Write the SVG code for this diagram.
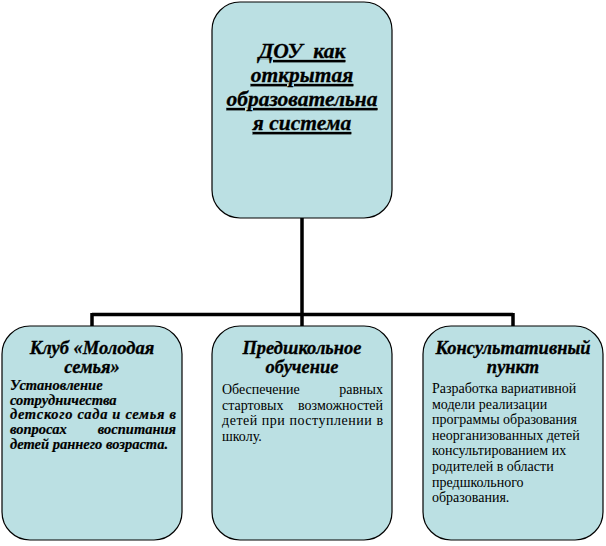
<svg xmlns="http://www.w3.org/2000/svg" width="606" height="546" viewBox="0 0 606 546">
<style>
.box{fill:#BBE0E3;stroke:#000;stroke-width:1.2}
.conn{stroke:#000;stroke-width:3.5;fill:none}
.ttl{font-family:"Liberation Serif","DejaVu Serif",serif;font-weight:bold;font-style:italic;font-size:18.5px;text-anchor:middle;fill:#000;stroke:#000;stroke-width:0.3}
.main{font-family:"Liberation Serif","DejaVu Serif",serif;font-weight:bold;font-style:italic;font-size:21.5px;text-anchor:middle;text-decoration:underline;fill:#000;stroke:#000;stroke-width:0.3}
.bi{font-family:"Liberation Serif","DejaVu Serif",serif;font-weight:bold;font-style:italic;font-size:14.5px;fill:#000;stroke:#000;stroke-width:0.2}
.rg{font-family:"Liberation Serif","DejaVu Serif",serif;font-size:14px;fill:#000}
.end{text-anchor:end}
</style>
<rect width="606" height="546" fill="#fff"/>
<g id="connectors">
<path class="conn" d="M302 218 V314.5 M92 314.5 H513 M92 313 V326 M302 313 V326 M513 313 V326"/>
</g>
<g id="node-dou">
<rect class="box" x="212" y="2" width="180" height="216" rx="28"/>
<text class="main" x="302" y="58" xml:space="preserve">ДОУ  как</text>
<text class="main" x="302" y="82">открытая</text>
<text class="main" x="302" y="106">образовательна</text>
<text class="main" x="302" y="130">я система</text>
</g>
<g id="node-club">
<rect class="box" x="2" y="326" width="180" height="214" rx="28"/>
<text class="ttl" x="92" y="354">Клуб «Молодая</text>
<text class="ttl" x="92" y="373">семья»</text>
<text class="bi" x="10" y="390">Установление</text>
<text class="bi" x="10" y="404.7">сотрудничества</text>
<text class="bi" x="10" y="419.4" textLength="166" lengthAdjust="spacing">детского сада и семья в</text>
<text class="bi" x="10" y="434">вопросах</text>
<text class="bi end" x="176" y="434">воспитания</text>
<text class="bi" x="10" y="448.8">детей раннего возраста.</text>
</g>
<g id="node-preschool">
<rect class="box" x="212" y="326" width="180" height="214" rx="28"/>
<text class="ttl" x="302" y="354">Предшкольное</text>
<text class="ttl" x="302" y="373">обучение</text>
<text class="rg" x="222" y="394">Обеспечение</text>
<text class="rg end" x="383" y="394">равных</text>
<text class="rg" x="222" y="409.5">стартовых</text>
<text class="rg end" x="383" y="409.5">возможностей</text>
<text class="rg" x="222" y="425" textLength="161" lengthAdjust="spacing">детей при поступлении в</text>
<text class="rg" x="222" y="440.5">школу.</text>
</g>
<g id="node-consult">
<rect class="box" x="423" y="326" width="180" height="214" rx="28"/>
<text class="ttl" x="513" y="354">Консультативный</text>
<text class="ttl" x="513" y="373">пункт</text>
<text class="rg" x="432" y="393">Разработка вариативной</text>
<text class="rg" x="432" y="408.6">модели реализации</text>
<text class="rg" x="432" y="424.2">программы образования</text>
<text class="rg" x="432" y="439.8">неорганизованных детей</text>
<text class="rg" x="432" y="455.4">консультированием их</text>
<text class="rg" x="432" y="471">родителей в области</text>
<text class="rg" x="432" y="486.6">предшкольного</text>
<text class="rg" x="432" y="502.2">образования.</text>
</g>
</svg>
